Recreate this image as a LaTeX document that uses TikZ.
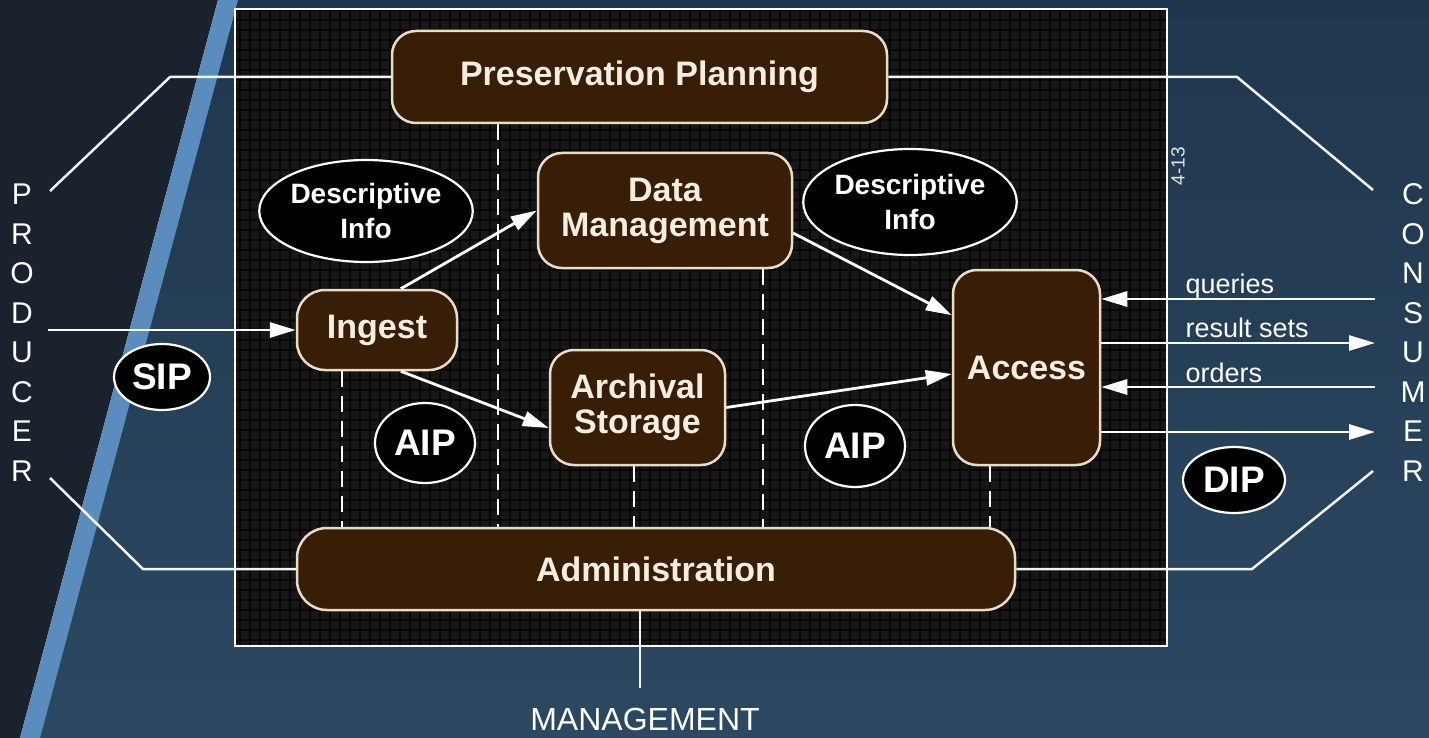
\documentclass[tikz,border=0pt]{standalone}
\usepackage{fontspec}
\setmainfont{Liberation Sans}
\usetikzlibrary{arrows.meta,shapes.geometric}
\definecolor{bgdark}{HTML}{19222D}
\definecolor{bgtop}{HTML}{1F364E}
\definecolor{bgbot}{HTML}{2C4961}
\definecolor{stripe}{HTML}{5A8DBD}
\definecolor{panel}{HTML}{171717}
\definecolor{gridc}{HTML}{070707}
\definecolor{nodefill}{HTML}{391E07}
\definecolor{nodeedge}{HTML}{EADCC6}
\definecolor{txt}{HTML}{F4EDE2}
\tikzset{
  box/.style={draw=nodeedge, line width=2.5pt, fill=nodefill, rounded corners=24pt,
    text=txt, font=\bfseries\fontsize{34}{35}\selectfont, align=center, inner sep=0pt},
  oval/.style={ellipse, draw=white, line width=2.2pt, fill=black, text=white,
    align=center, inner sep=0pt},
  flow/.style={draw=white, line width=2.8pt, -{Triangle[length=26pt,width=15pt]}},
  link/.style={draw=white!92!gray, line width=2.5pt},
  dashline/.style={draw=white, line width=2.5pt, dash pattern=on 16pt off 9pt},
  side/.style={text=white, font=\fontsize{30}{30}\selectfont},
  msg/.style={text=white, font=\fontsize{27}{27}\selectfont, anchor=base west}
}
\begin{document}
\begin{tikzpicture}[x=1pt,y=-1pt]
\useasboundingbox (0,0) rectangle (1429,738);
% background
\fill[bgdark] (0,0) -- (218,0) -- (20,738) -- (0,738) -- cycle;
\shade[top color=bgtop, bottom color=bgbot] (237,0) -- (1429,0) -- (1429,738) -- (39,738) -- cycle;
\fill[stripe] (218,0) -- (238,0) -- (40,738) -- (20,738) -- cycle;
% panel
\fill[panel] (235,9) rectangle (1167,646);
\begin{scope}
  \clip (235,9) rectangle (1167,646);
  \draw[gridc, line width=1.6pt, step=10pt] (235,9) grid (1167,646);
\end{scope}
\draw[white, line width=2.5pt] (235,9) rectangle (1167,646);
\node[text=white!80!gray, rotate=90, font=\fontsize{19}{19}\selectfont] (pg) at (1178,166) {4-13};

% coordinates for free ends
\coordinate (ptop) at (50,191);
\coordinate (ptopk) at (170,77);
\coordinate (pbot) at (50,478);
\coordinate (pbotk) at (143,569);
\coordinate (ctop) at (1373,190);
\coordinate (ctopk) at (1237,77);
\coordinate (cbot) at (1373,471);
\coordinate (cbotk) at (1252,569);
\coordinate (pin) at (48,330);
\coordinate (mgk) at (640,688);
\coordinate (cq) at (1375,299);
\coordinate (cr) at (1375,343);
\coordinate (co) at (1375,387);
\coordinate (cd) at (1375,432);

% nodes
\node[box, minimum width=495pt, minimum height=92pt] (pp) at (639.5,77) {Preservation Planning};
\node[box, minimum width=254pt, minimum height=115pt] (dm) at (665,210.5) {Data\\Management};
\node[box, minimum width=175pt, minimum height=115pt] (as) at (637.5,407.5) {Archival\\Storage};
\node[box, minimum width=160pt, minimum height=80pt, rounded corners=28pt] (ing) at (377,330) {Ingest};
\node[box, minimum width=147pt, minimum height=195pt] (acc) at (1026.5,367.5) {Access};
\node[box, minimum width=718pt, minimum height=82pt, rounded corners=30pt] (adm) at (656,569) {Administration};

% dashed separators
\draw[dashline] (498,0 |- pp.south) -- (498,0 |- adm.north);
\draw[dashline] (342,0 |- ing.south) -- (342,0 |- adm.north);
\draw[dashline] (763,0 |- dm.south) -- (763,0 |- adm.north);
\draw[dashline] (634,0 |- as.south) -- (634,0 |- adm.north);
\draw[dashline] (990,0 |- acc.south) -- (990,0 |- adm.north);

% ellipses
\node[oval, minimum width=202pt, minimum height=102pt, font=\bfseries\fontsize{28}{35}\selectfont] (di1) at (366,211) {Descriptive\\Info};
\node[oval, minimum width=190pt, minimum height=106pt, font=\bfseries\fontsize{28}{35}\selectfont] (di2) at (910,202) {Descriptive\\Info};
\node[oval, minimum width=96pt, minimum height=66pt, font=\bfseries\fontsize{37}{37}\selectfont] (sip) at (162,377) {SIP};
\node[oval, minimum width=100pt, minimum height=80pt, font=\bfseries\fontsize{37}{37}\selectfont] (aip1) at (425,443) {AIP};
\node[oval, minimum width=100pt, minimum height=82pt, font=\bfseries\fontsize{37}{37}\selectfont] (aip2) at (855,446) {AIP};
\node[oval, minimum width=102pt, minimum height=66pt, font=\bfseries\fontsize{37}{37}\selectfont] (dip) at (1234,480) {DIP};

% producer / consumer / management links
\draw[link] (ptop) -- (ptopk) -- (pp.west);
\draw[link] (pbot) -- (pbotk) -- (adm.west);
\draw[link] (pp.east) -- (ctopk) -- (ctop);
\draw[link] (adm.east) -- (cbotk) -- (cbot);
\draw[link] (640,0 |- adm.south) -- (mgk);
\node[text=white, font=\fontsize{32}{32}\selectfont] (mg) at (645,719) {MANAGEMENT};

% flows
\draw[flow] (pin) -- (ing.west);
\draw[flow] (ing.60) -- (dm.west);
\draw[flow] (ing.-60) -- (as.193);
\draw[flow] (dm.-10) -- (acc.145);
\draw[flow] (as.east) -- (acc.185);
\draw[flow] (cq) -- (cq -| acc.east);
\draw[flow] (cr -| acc.east) -- (cr);
\draw[flow] (co) -- (co -| acc.east);
\draw[flow] (cd -| acc.east) -- (cd);
\node[msg] (lq) at (1182,293) {queries};
\node[msg] (lr) at (1182,337) {result sets};
\node[msg] (lo) at (1182,382) {orders};

% side letters
\foreach \l [count=\i] in {P,R,O,D,U,C,E,R}
  \node[side] (prod\i) at (22,{155+39.5*\i}) {\l};
\foreach \l [count=\i] in {C,O,N,S,U,M,E,R}
  \node[side] (cons\i) at (1413,{155+39.5*\i}) {\l};
\end{tikzpicture}
\end{document}
